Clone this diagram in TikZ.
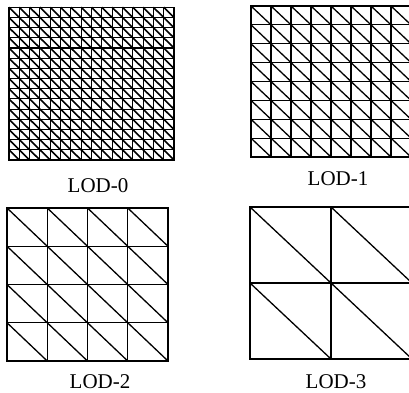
\documentclass[tikz,border=0pt]{standalone}
\usepackage{fontspec}
\setmainfont{Liberation Serif}
\newcommand{\meshgrid}[6]{% x0 y0 dx dy nx ny
  \foreach \i in {0,...,#5}{\draw[gridline] (#1+\i*#3, #2) -- (#1+\i*#3, #2+#6*#4);}
  \foreach \j in {0,...,#6}{\draw[gridline] (#1, #2+\j*#4) -- (#1+#5*#3, #2+\j*#4);}
  \foreach \i in {1,...,#5}{\foreach \j in {1,...,#6}{%
    \draw[diagline] (#1+\i*#3-#3, #2+\j*#4-#4) -- (#1+\i*#3, #2+\j*#4);}}
}
\begin{document}
\begin{tikzpicture}[x=1pt,y=-1pt,
  gridline/.style={line width=1.2pt,line cap=rect},
  diagline/.style={line width=1.3pt},
  lodlabel/.style={anchor=base,inner sep=0pt,font=\fontsize{21}{25}\selectfont}]
\useasboundingbox (0,0) rectangle (409,392);
\clip (0,0) rectangle (409,392);
% LOD-0
\begin{scope}[gridline/.style={line width=1.1pt,line cap=rect},diagline/.style={line width=1.6pt}]
\meshgrid{9}{7.3}{10.3125}{10.18}{16}{15}
\end{scope}
% LOD-1
\meshgrid{251}{6}{20}{18.875}{8}{8}
% LOD-2
\meshgrid{7}{208}{40.25}{38.25}{4}{4}
% LOD-3
\meshgrid{250}{207}{81}{76}{2}{2}
\node[lodlabel] (l0) at (98,192) {LOD-0};
\node[lodlabel] (l1) at (338,185) {LOD-1};
\node[lodlabel] (l2) at (100,388) {LOD-2};
\node[lodlabel] (l3) at (336,388) {LOD-3};
\end{tikzpicture}
\end{document}
